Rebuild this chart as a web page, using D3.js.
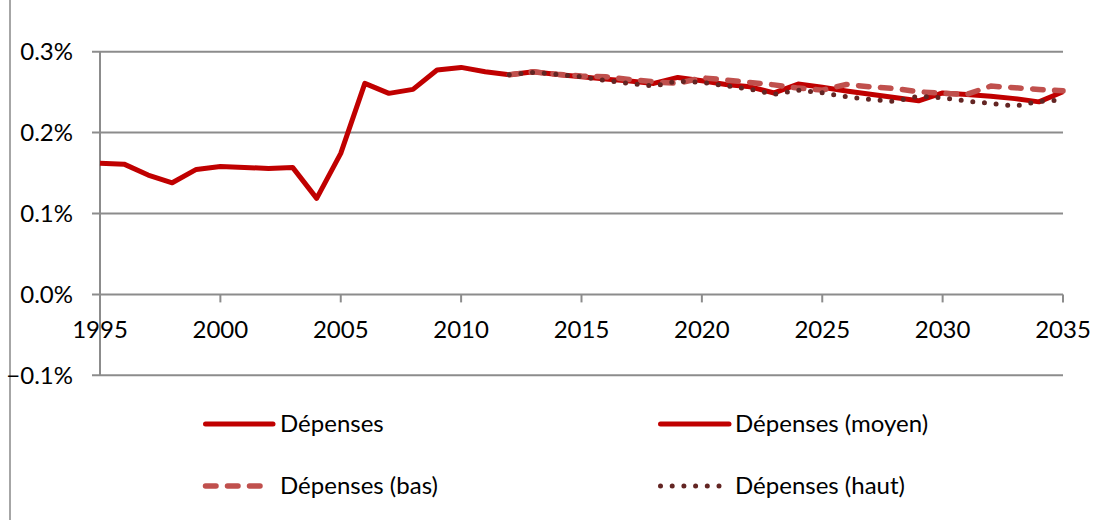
<!DOCTYPE html>
<html>
<head>
<meta charset="utf-8">
<script src="https://cdn.jsdelivr.net/npm/d3@7"></script>
<style>
  body { margin: 0; background: #fff; }
  svg text { font-family: Lato, "Open Sans", sans-serif; fill: #000; }
</style>
</head>
<body>
<svg id="chart"></svg>
<script>
// valeurs en % du PIB
const histYears = d3.range(1995, 2013);
const depenses = [0.162, 0.161, 0.1475, 0.138, 0.1545, 0.158, 0.157, 0.1557, 0.157, 0.1187,
                  0.1743, 0.2608, 0.2485, 0.2534, 0.2773, 0.2806, 0.2752, 0.2715];

const projYears = d3.range(2012, 2036);
const moyen = [0.2715, 0.2752, 0.2719, 0.269, 0.2661, 0.2637, 0.2608, 0.2682, 0.264, 0.2595,
               0.2566, 0.249, 0.26, 0.256, 0.2515, 0.2475, 0.2435, 0.2393, 0.249, 0.247,
               0.245, 0.242, 0.238, 0.2505];
const bas = [0.2715, 0.2752, 0.272, 0.2699, 0.269, 0.2657, 0.2628, 0.2608, 0.2678, 0.265,
             0.262, 0.259, 0.255, 0.2525, 0.2595, 0.2566, 0.2546, 0.2505, 0.2485, 0.2472,
             0.2575, 0.2555, 0.2534, 0.2517];
const haut = [0.2715, 0.2744, 0.2719, 0.269, 0.2645, 0.2608, 0.2575, 0.2637, 0.262, 0.2579,
              0.2538, 0.2472, 0.2525, 0.2493, 0.2443, 0.241, 0.2385, 0.245, 0.243, 0.239,
              0.236, 0.2328, 0.2385, 0.2402];

const yTicks = [-0.1, 0.0, 0.1, 0.2, 0.3];
const xTicks = d3.range(1995, 2036, 5);

const width = 1103, height = 520;

const svg = d3.select("#chart")
    .attr("width", width)
    .attr("height", height);

const x = d3.scaleLinear().domain([1995, 2035]).range([100, 1063]);
const y = d3.scaleLinear().domain([-0.1, 0.3]).range([375.3, 51.7]);

const gridColor = "#8c8c8c";
const fontSize = "24px";

// cadre (seul le bord gauche est visible)
svg.append("line")
    .attr("x1", 10).attr("x2", 10)
    .attr("y1", 0).attr("y2", height)
    .attr("stroke", "#a6a6a6").attr("stroke-width", 2);

// grille horizontale
svg.append("g")
    .selectAll("line")
    .data(yTicks)
    .enter().append("line")
    .attr("x1", 92).attr("x2", x(2035))
    .attr("y1", d => y(d)).attr("y2", d => y(d))
    .attr("stroke", gridColor).attr("stroke-width", 2);

// axe vertical
svg.append("line")
    .attr("x1", x(1995)).attr("x2", x(1995))
    .attr("y1", y(0.3)).attr("y2", y(-0.1))
    .attr("stroke", gridColor).attr("stroke-width", 2);

svg.append("g")
    .selectAll("text")
    .data(yTicks)
    .enter().append("text")
    .attr("x", 73)
    .attr("y", d => y(d))
    .attr("dy", "0.35em")
    .attr("text-anchor", "end")
    .style("font-size", fontSize)
    .text(d => d3.format(".1f")(d) + "%");

// axe horizontal à 0
svg.append("g")
    .selectAll("line")
    .data(xTicks)
    .enter().append("line")
    .attr("x1", d => x(d)).attr("x2", d => x(d))
    .attr("y1", y(0)).attr("y2", y(0) + 8)
    .attr("stroke", gridColor).attr("stroke-width", 2);

svg.append("g")
    .selectAll("text")
    .data(xTicks)
    .enter().append("text")
    .attr("x", d => x(d))
    .attr("y", y(0) + 35)
    .attr("dy", "0.35em")
    .attr("text-anchor", "middle")
    .style("font-size", fontSize)
    .text(d => d);

const line = d3.line()
    .x(d => x(d[0]))
    .y(d => y(d[1]));

const series = [
    { name: "Dépenses", years: histYears, values: depenses, color: "#c00000", width: 5, dash: null },
    { name: "Dépenses (moyen)", years: projYears, values: moyen, color: "#c00000", width: 5, dash: null },
    { name: "Dépenses (bas)", years: projYears, values: bas, color: "#c0504d", width: 5.5, dash: "10.5 11.5" },
    { name: "Dépenses (haut)", years: projYears, values: haut, color: "#632523", width: 5, dash: "0 11.7" }
];

svg.append("g")
    .selectAll("path")
    .data(series)
    .enter().append("path")
    .attr("d", s => line(s.years.map((yr, i) => [yr, s.values[i]])))
    .attr("fill", "none")
    .attr("stroke", s => s.color)
    .attr("stroke-width", s => s.width)
    .attr("stroke-linejoin", "round")
    .attr("stroke-linecap", s => s.dash ? "round" : "butt")
    .attr("stroke-dasharray", s => s.dash);

// légende
const legendPos = [[203, 424], [658, 424], [203, 486], [658, 486]];
const legendEnd = [70, 71, 58, 62];

const leg = svg.append("g")
    .selectAll("g")
    .data(series)
    .enter().append("g")
    .attr("transform", (s, i) => `translate(${legendPos[i][0]},${legendPos[i][1]})`);

leg.append("line")
    .attr("x1", 2.5).attr("x2", (s, i) => legendEnd[i])
    .attr("y1", 0).attr("y2", 0)
    .attr("stroke", s => s.color)
    .attr("stroke-width", s => s.width)
    .attr("stroke-linecap", "round")
    .attr("stroke-dasharray", s => s.dash);

leg.append("text")
    .attr("x", 77)
    .attr("y", 0)
    .attr("dy", "0.35em")
    .style("font-size", fontSize)
    .text(s => s.name);
</script>
</body>
</html>
